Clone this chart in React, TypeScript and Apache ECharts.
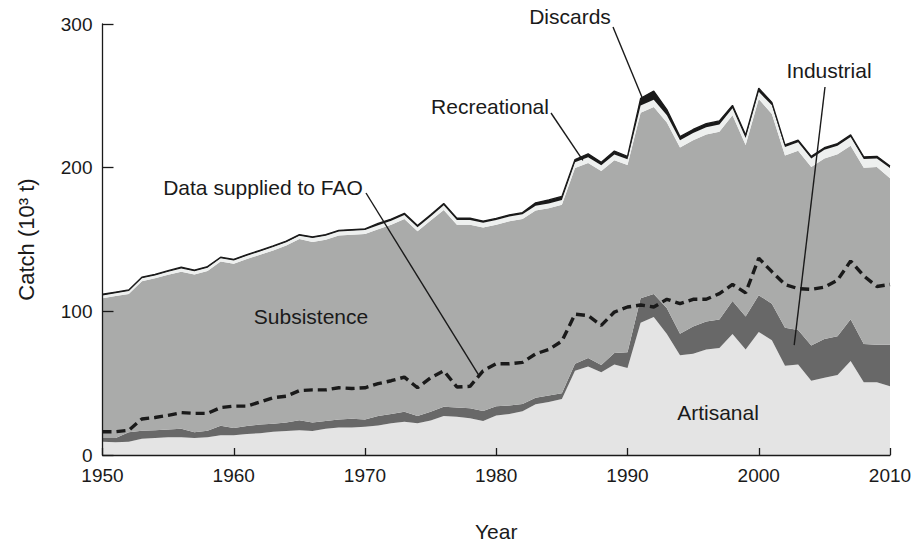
import React, { useEffect, useRef } from "react";
import * as echarts from "echarts";

const years = [
  1950, 1951, 1952, 1953, 1954, 1955, 1956, 1957, 1958, 1959,
  1960, 1961, 1962, 1963, 1964, 1965, 1966, 1967, 1968, 1969,
  1970, 1971, 1972, 1973, 1974, 1975, 1976, 1977, 1978, 1979,
  1980, 1981, 1982, 1983, 1984, 1985, 1986, 1987, 1988, 1989,
  1990, 1991, 1992, 1993, 1994, 1995, 1996, 1997, 1998, 1999,
  2000, 2001, 2002, 2003, 2004, 2005, 2006, 2007, 2008, 2009,
  2010,
];

const artisanal = [
  9.3, 8.8, 9.3, 11.3, 11.8, 12.3, 12.3, 11.8, 12.3, 13.8,
  13.8, 14.7, 15.2, 16.2, 16.7, 17.2, 16.7, 18.2, 19.2, 19.2,
  19.7, 20.6, 22.1, 23.1, 22.1, 24.1, 27.1, 26.6, 25.6, 23.6,
  27.5, 28.5, 30.5, 35.4, 36.9, 38.9, 58.6, 61.6, 57.6, 63.0,
  60.6, 92.1, 96.1, 84.2, 69.4, 70.4, 73.4, 74.4, 84.2, 73.4,
  85.7, 79.8, 62.1, 63.0, 51.7, 53.7, 55.6, 65.5, 50.7, 50.7,
  47.8,
];

const industrial = [
  2.5, 3, 6.5, 5.5, 5.5, 5.5, 6, 4, 4.5, 6.5,
  5, 5.5, 6, 5.5, 6, 7, 6, 5.5, 5.5, 6,
  5, 6.5, 6.5, 7, 5, 6, 6.5, 6.5, 7, 7,
  6.5, 6, 5, 4.5, 4.5, 4, 5, 6, 5, 8,
  11, 17, 16, 18, 15, 19, 19.5, 20, 23, 23,
  25.5, 25.5, 26.5, 24, 24.5, 27, 27, 29, 26.5, 26,
  29,
];

const subsistence = [
  97.3, 98.8, 96.3, 104.2, 105.7, 107.7, 109.3, 109.8, 111.3, 114.3,
  114.3, 116.2, 118.2, 120.7, 123.1, 126.1, 125.6, 126.1, 128.1, 128.1,
  129.1, 130.1, 131.6, 134.1, 128.7, 133.1, 137.0, 127.2, 127.7, 127.7,
  126.2, 128.2, 128.7, 130.3, 130.3, 131.3, 136.1, 135.6, 135.1, 134.1,
  130.2, 129.2, 130.2, 129.2, 129.7, 129.7, 130.2, 130.6, 129.2, 119.3,
  136.6, 132.1, 119.8, 124.7, 124.2, 125.7, 126.7, 120.8, 122.8, 123.7,
  115.9,
];

const recreational = [
  2, 2, 2, 2, 2, 2, 2.3, 2.3, 2.3, 2.3,
  2.3, 2.3, 2.3, 2.3, 2.3, 2.3, 2.8, 2.8, 2.8, 2.8,
  2.8, 2.8, 2.8, 2.8, 2.8, 2.8, 3.3, 3.3, 3.3, 3.3,
  3.3, 3.3, 3.3, 3.3, 3.3, 3.3, 4, 4, 4, 4,
  4, 5, 5, 5, 5, 5, 5, 5, 5, 5,
  5, 6, 6, 6, 6, 6, 6, 6, 6, 6,
  7,
];

const discards = [
  0.8, 0.8, 0.8, 0.8, 0.8, 0.8, 0.8, 0.8, 0.8, 0.8,
  0.8, 0.8, 0.8, 0.8, 0.8, 0.8, 0.8, 0.8, 0.8, 0.8,
  0.8, 1.2, 1.2, 1.2, 1.2, 1.2, 1.2, 1.2, 1.2, 1.2,
  1.2, 1.2, 1.2, 2, 2.5, 2.5, 2, 2.5, 2, 2.5,
  2, 5, 6, 4, 2.5, 2.5, 2.5, 2.5, 2, 2,
  2.5, 2, 1.5, 1.5, 1.5, 1.5, 1.5, 1.5, 1.5, 1.5,
  1.5,
];

const faoReported = [
  16.2, 16.2, 17.2, 25.1, 26.1, 27.6, 29.5, 29.0, 29.0, 33.0,
  34.0, 34.0, 36.9, 39.9, 40.9, 44.8, 45.3, 45.3, 46.8, 46.3,
  46.8, 49.7, 51.7, 54.2, 46.8, 53.7, 58.6, 47.3, 47.8, 58.6,
  63.5, 63.5, 64.5, 70.4, 73.4, 79.3, 98.0, 97.0, 90.2, 99.5,
  103.0, 104.4, 103.0, 108.4, 105.4, 108.4, 108.4, 112.3, 118.7, 112.8,
  137.0, 127.6, 118.7, 115.8, 115.3, 116.8, 121.7, 135.0, 124.7, 117.3,
  118.7,
];

const yTicks = [0, 100, 200, 300];

const FONT = '"Liberation Sans", Arial, sans-serif';
const INK = "#1a1a1a";

export default function App() {
  const ref = useRef<HTMLDivElement>(null);

  useEffect(() => {
    const chart = echarts.init(ref.current!, null, { renderer: "svg" });
    const area = (name: string, arr: number[], color: string, extra: any = {}) => ({
      name,
      type: "line",
      stack: "catch",
      data: arr,
      symbol: "none",
      showSymbol: false,
      silent: true,
      lineStyle: { width: 0, color },
      itemStyle: { color },
      areaStyle: { color, opacity: 1 },
      z: 2,
      ...extra,
    });
    const decade = (i: number) => years[i] % 10 === 0;

    chart.setOption({
      animation: false,
      grid: { left: 102.5, right: 29, top: 24, bottom: 83 },
      xAxis: {
        type: "category",
        data: years.map(String),
        boundaryGap: false,
        z: 10,
        name: "Year",
        nameLocation: "middle",
        nameGap: 66,
        nameTextStyle: { fontFamily: FONT, fontSize: 21, color: INK },
        axisLine: { show: true, lineStyle: { color: INK, width: 1.3 } },
        axisTick: { show: true, inside: true, length: 7, interval: decade, lineStyle: { color: INK, width: 1.3 } },
        axisLabel: { fontFamily: FONT, fontSize: 19, color: INK, margin: 11, interval: decade },
        splitLine: { show: false },
      },
      yAxis: {
        type: "value",
        min: yTicks[0],
        max: yTicks[yTicks.length - 1],
        interval: 100,
        z: 10,
        name: "Catch (10³ t)",
        nameLocation: "middle",
        nameGap: 65,
        nameTextStyle: { fontFamily: FONT, fontSize: 22, color: INK },
        axisLine: { show: true, lineStyle: { color: INK, width: 1.3 } },
        axisTick: { show: true, inside: true, length: 11, lineStyle: { color: INK, width: 1.3 } },
        axisLabel: { fontFamily: FONT, fontSize: 19, color: INK, margin: 10 },
        splitLine: { show: false },
      },
      series: [
        area("Artisanal", artisanal, "#e4e4e4"),
        area("Industrial", industrial, "#686868"),
        area("Subsistence", subsistence, "#aaabaa"),
        area("Recreational", recreational, "#eef0ef"),
        area("Discards", discards, "#1a1a1a", {
          lineStyle: { width: 1.3, color: "#1a1a1a" },
          z: 3,
        }),
        {
          name: "Data supplied to FAO",
          type: "line",
          data: faoReported,
          symbol: "none",
          showSymbol: false,
          silent: true,
          z: 5,
          lineStyle: { color: INK, width: 3.4, type: [9, 5] },
        },
      ],
    });

    const P = (yr: number, v: number) => {
      const a = chart.convertToPixel({ gridIndex: 0 } as any, [0, v]) as number[];
      const b = chart.convertToPixel({ gridIndex: 0 } as any, [1, v]) as number[];
      return [a[0] + (b[0] - a[0]) * (yr - years[0]), a[1]];
    };
    const label = (text: string, cx: number, cy: number) => ({
      type: "text",
      x: cx,
      y: cy,
      z: 20,
      silent: true,
      style: {
        text,
        fill: INK,
        font: `21px ${FONT}`,
        align: "center",
        verticalAlign: "middle",
      },
    });
    const leader = (x1: number, y1: number, end: number[]) => ({
      type: "line",
      z: 19,
      silent: true,
      shape: { x1, y1, x2: end[0], y2: end[1] },
      style: { stroke: INK, lineWidth: 1.4 },
    });

    chart.setOption({
      graphic: [
        label("Discards", 570, 16),
        leader(613, 27, P(1991.2, 247)),
        label("Recreational", 490, 106),
        leader(551, 113, P(1986.6, 205)),
        label("Data supplied to FAO", 263, 187),
        leader(366, 193, P(1978.7, 55)),
        label("Industrial", 829, 70),
        leader(825, 87, P(2002.7, 76.5)),
        label("Subsistence", 311, 316),
        label("Artisanal", 718, 412),
      ],
    });

    return () => chart.dispose();
  }, []);

  return (
    <div
      ref={ref}
      style={{ position: "absolute", left: 0, top: 0, width: 919, height: 547 }}
    />
  );
}
